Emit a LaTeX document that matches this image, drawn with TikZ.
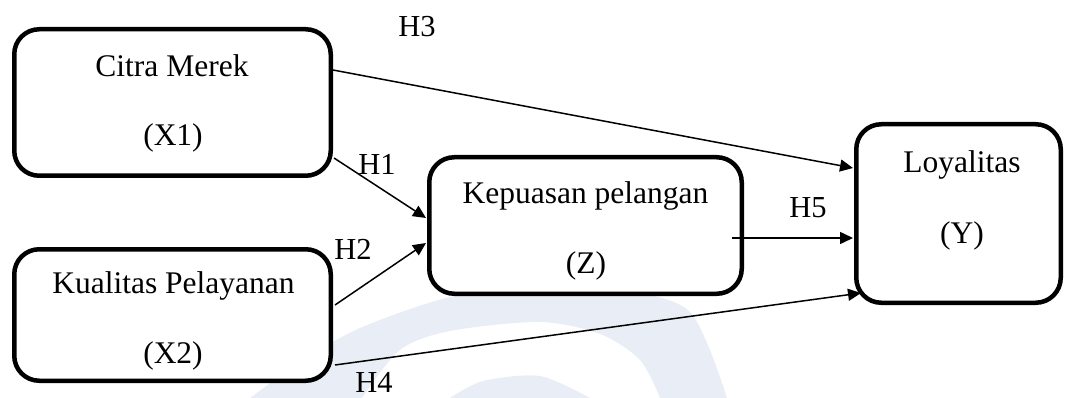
\documentclass[tikz,border=0pt]{standalone}
\usepackage{fontspec}
\setmainfont{Liberation Serif}
\usetikzlibrary{arrows.meta,calc}
\definecolor{wm}{RGB}{233,238,246}
\tikzset{
  box/.style={draw=black, fill=white, line width=4.5pt, rounded corners=25pt, inner sep=0pt},
  txt/.style={anchor=base, inner sep=0pt, font=\fontsize{31.5}{36}\selectfont},
  hlab/.style={anchor=base, inner sep=0pt, font=\fontsize{30.5}{36}\selectfont},
  conn/.style={line width=1.5pt, -{Triangle[length=13pt,width=12pt]}}
}
\begin{document}
\begin{tikzpicture}[x=1pt,y=-1pt]
\useasboundingbox (0,0) rectangle (1065,398);
% watermark
\fill[wm, even odd rule]
  plot[smooth] coordinates {(250,398) (300,362) (360,328) (450,297) (540,286) (620,290) (690,312) (727,398)} -- cycle
  plot[smooth] coordinates {(362,398) (400,350) (450,331) (540,322) (600,334) (640,360) (660,398)} -- cycle;
\fill[wm] plot[smooth] coordinates {(450,398) (483,381) (540,376) (590,398)} -- cycle;
% boxes
\node[box, minimum width=316.5pt, minimum height=146.5pt] (x1) at (172.5,102.5) {};
\node[box, minimum width=316.5pt, minimum height=131.5pt] (x2) at (172.5,315) {};
\node[box, minimum width=312.5pt, minimum height=136.5pt] (z) at (585.5,225.5) {};
\node[box, minimum width=204.5pt, minimum height=178.5pt] (y) at (958.5,213.5) {};
% texts
\node[txt] (t1) at (172,77) {Citra Merek};
\node[txt] (t1b) at (173,146) {(X1)};
\node[txt] (t2) at (173.5,293) {Kualitas Pelayanan};
\node[txt] (t2b) at (173,363) {(X2)};
\node[txt] (t3) at (585.5,204) {Kepuasan pelangan};
\node[txt] (t3b) at (586,273) {(Z)};
\node[txt] (t4) at (962,173) {Loyalitas};
\node[txt] (t4b) at (962,243) {(Y)};
% hypothesis labels
\node[hlab] (h3) at (417,37) {H3};
\node[hlab] (h1) at (377,175) {H1};
\node[hlab] (h2) at (353,259) {H2};
\node[hlab] (h4) at (374,392) {H4};
\node[hlab] (h5) at (808,218) {H5};
% connectors
\draw[conn] ($(x1.north east)+(0,43)$) -- ($(y.north west)+(-1,46)$);
\draw[conn] ($(x1.south east)+(1,-20)$) -- ($(z.north west)+(-1,63)$);
\draw[conn] ($(x2.north east)+(2,58)$) -- ($(z.north west)+(-1,88)$);
\draw[conn] ($(x2.south east)+(2,-18)$) -- ($(y.south west)+(7,-12)$);
\draw[conn] ($(z.north east)+(-12,83)$) -- ($(y.north west)+(-1,116)$);
\end{tikzpicture}
\end{document}
